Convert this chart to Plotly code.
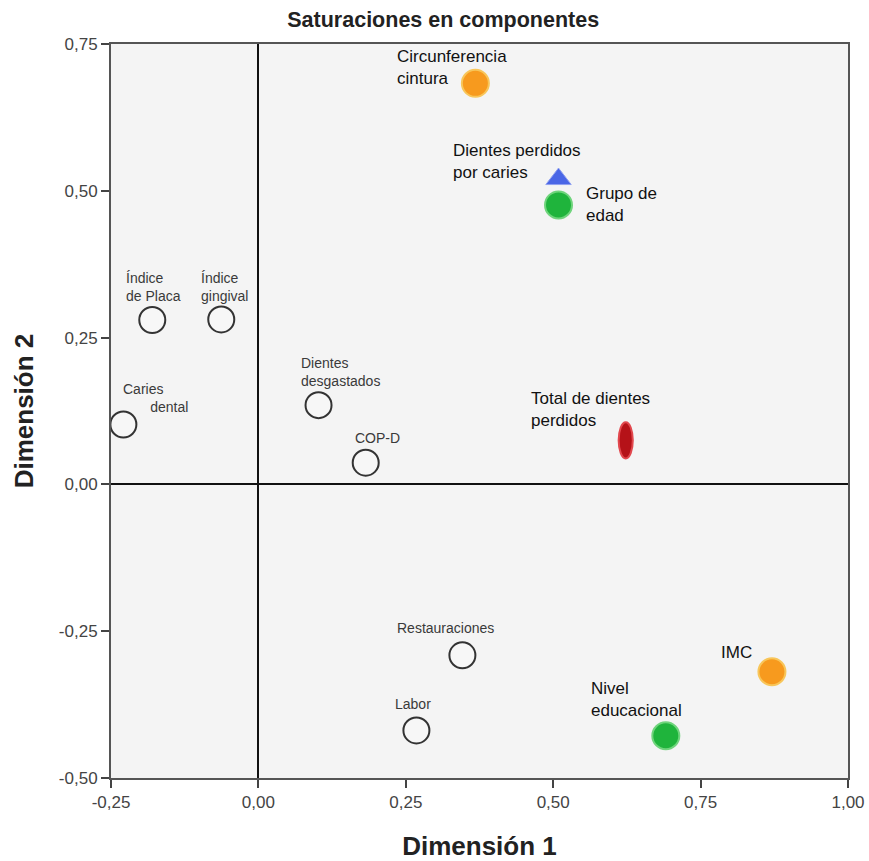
import plotly.graph_objects as go

# ---- data ----
open_names = ["Índice<br>de Placa", "Índice<br>gingival", "Caries<br>\u00a0\u00a0\u00a0\u00a0\u00a0\u00a0\u00a0dental",
              "Dientes<br>desgastados", "COP-D", "Restauraciones", "Labor"]
open_x = [-0.180, -0.063, -0.229, 0.102, 0.182, 0.346, 0.268]
open_y = [0.280, 0.281, 0.102, 0.135, 0.037, -0.291, -0.419]
open_dx = [-28, -22, -2, -20, -13, -67, -23]   # label offsets (px)
open_dy = [33, 32, 27, 33, 25, 27, 26]

orange_names = ["Circunferencia<br>cintura", "IMC"]
orange_x = [0.368, 0.871]
orange_y = [0.683, -0.319]
orange_dx = [-80, -53]
orange_dy = [16, 19]

green_names = ["Grupo de<br>edad", "Nivel<br>educacional"]
green_x = [0.509, 0.691]
green_y = [0.476, -0.428]
green_dx = [25, -77]
green_dy = [0, 36]

blue_names = ["Dientes perdidos<br>por caries"]
blue_x = [0.509]
blue_y = [0.520]
blue_dx = [-108]
blue_dy = [18]

red_names = ["Total de dientes<br>perdidos"]
red_x = [0.623]
red_y = [0.075]
red_dx = [-97]
red_dy = [31]

x_ticks = [-0.25, 0.0, 0.25, 0.5, 0.75, 1.0]
x_tick_labels = ["-0,25", "0,00", "0,25", "0,50", "0,75", "1,00"]
y_ticks = [-0.5, -0.25, 0.0, 0.25, 0.5, 0.75]
y_tick_labels = ["-0,50", "-0,25", "0,00", "0,25", "0,50", "0,75"]

fig = go.Figure()

fig.add_trace(go.Scatter(x=open_x, y=open_y, mode="markers",
                         marker=dict(size=26, color="#f7f7f7", line=dict(color="#333333", width=2)),
                         hoverinfo="skip", showlegend=False))
fig.add_trace(go.Scatter(x=orange_x, y=orange_y, mode="markers",
                         marker=dict(size=27, color="#f79a1e", line=dict(color="#f8c65a", width=2)),
                         hoverinfo="skip", showlegend=False))
fig.add_trace(go.Scatter(x=green_x, y=green_y, mode="markers",
                         marker=dict(size=27, color="#1fb43c", line=dict(color="#6fd47c", width=2)),
                         hoverinfo="skip", showlegend=False))
fig.add_trace(go.Scatter(x=blue_x, y=blue_y, mode="markers",
                         marker=dict(size=22, symbol="triangle-up", color="#4a66e6",
                                     line=dict(color="#8fa0f0", width=1)),
                         hoverinfo="skip", showlegend=False))

# red vertical ellipse drawn from data point
for rx, ry in zip(red_x, red_y):
    fig.add_shape(type="circle", xref="x", yref="y",
                  x0=rx - 0.012, x1=rx + 0.012, y0=ry - 0.031, y1=ry + 0.031,
                  fillcolor="#b51218", line=dict(color="#e2484e", width=2))

big_font = dict(family="Liberation Sans, Arial", size=17, color="#111111")
small_font = dict(family="Liberation Sans, Arial", size=14, color="#3a3a3a")

def add_labels(names, xs, ys, dxs, dys, font):
    for n, x, y, dx, dy in zip(names, xs, ys, dxs, dys):
        fig.add_annotation(x=x, y=y, text=n, showarrow=False, xanchor="left", yanchor="middle",
                           align="left", xshift=dx, yshift=dy, font=font)

add_labels(open_names, open_x, open_y, open_dx, open_dy, small_font)
add_labels(orange_names, orange_x, orange_y, orange_dx, orange_dy, big_font)
add_labels(green_names, green_x, green_y, green_dx, green_dy, big_font)
add_labels(blue_names, blue_x, blue_y, blue_dx, blue_dy, big_font)
add_labels(red_names, red_x, red_y, red_dx, red_dy, big_font)

title_font = dict(family="Liberation Sans, Arial", size=26, color="#222222")
axis_common = dict(showgrid=False, zeroline=True, zerolinecolor="#111111", zerolinewidth=1.5,
                   showline=True, linecolor="#555555", linewidth=2, mirror=True,
                   ticks="outside", ticklen=8, tickwidth=1.5, tickcolor="#444444", automargin=False,
                   tickfont=dict(family="Liberation Sans, Arial", size=17, color="#444444"))

fig.update_layout(
    width=869, height=861,
    paper_bgcolor="white", plot_bgcolor="#f4f4f4",
    margin=dict(l=111, r=21, t=44, b=83),
    title=dict(text="<b>Saturaciones en componentes</b>", x=0.51, xanchor="center", y=0.977, yanchor="middle",
               font=dict(family="Liberation Sans, Arial", size=21.5, color="#222222")),
    xaxis=dict(range=[-0.25, 1.0], tickvals=x_ticks, ticktext=x_tick_labels,
               title=dict(text="<b>Dimensión 1</b>", font=title_font, standoff=37),
               **axis_common),
    yaxis=dict(range=[-0.5, 0.75], tickvals=y_ticks, ticktext=y_tick_labels,
               title=dict(text="<b>Dimensión 2</b>", font=title_font, standoff=18),
               **axis_common),
    showlegend=False,
)

fig.write_html("out.html", config={"displayModeBar": False},
               post_script="document.body.style.margin='0';document.body.style.overflow='hidden';")
